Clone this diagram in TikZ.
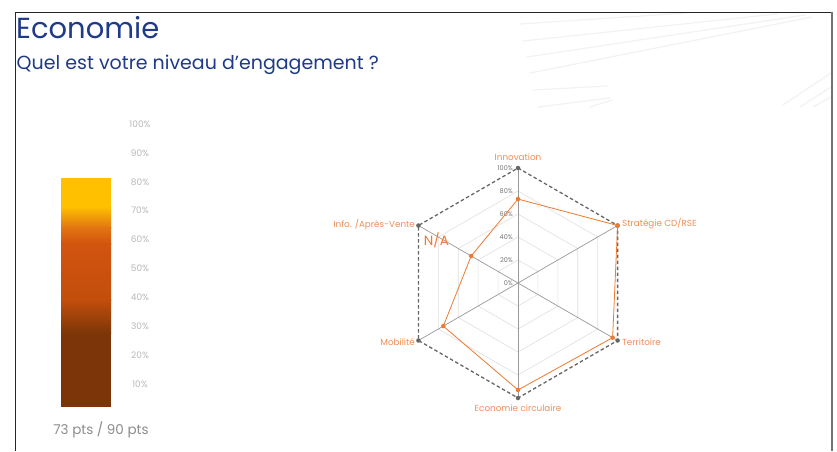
\documentclass[tikz,border=0pt]{standalone}
\usepackage{fontspec}
\setmainfont{Poppins}
\usetikzlibrary{calc}
\definecolor{titleblue}{HTML}{1F3B87}
\definecolor{radorange}{HTML}{EE7A30}
\definecolor{lblorange}{HTML}{EF8E55}
\definecolor{gyellow}{HTML}{FFC000}
\definecolor{gmid}{HTML}{E27512}
\definecolor{gorange}{HTML}{D2540F}
\definecolor{gorange2}{HTML}{C24E0C}
\definecolor{gbrown}{HTML}{7B3508}
\tikzset{
  faint/.style={draw=black!5, line width=1.2pt, line cap=round},
  gridhex/.style={draw=black!12, line width=0.6pt},
  axisline/.style={draw=black!40, line width=0.7pt},
  outerhex/.style={draw=black!60, line width=1.3pt, dash pattern=on 3.5pt off 2.5pt},
  vdot/.style={circle, fill=black!60, inner sep=0pt, minimum size=4.5pt},
  ddot/.style={circle, fill=radorange, inner sep=0pt, minimum size=4.5pt},
  dataline/.style={draw=radorange, line width=0.8pt},
  axlabel/.style={text=lblorange, font=\fontsize{8.8}{10}\selectfont, inner sep=1pt},
  pctlabel/.style={text=black!55, font=\fontsize{6.5}{7}\selectfont, inner sep=0.5pt, anchor=east},
  barlabel/.style={text=black!28, font=\fontsize{9}{10}\selectfont, inner sep=0pt},
}
\begin{document}
\begin{tikzpicture}[x=1pt,y=-1pt]
\useasboundingbox (0,0) rectangle (837,451);
\fill[white] (0,0) rectangle (837,451);
% faint background lines
\draw[faint] (520,24) -- (687,13);
\draw[faint] (523,41) -- (777,14);
\draw[faint] (527,57) -- (805,15);
\draw[faint] (530,73) -- (812,17);
\draw[faint] (533,90) -- (607,86);
\draw[faint] (538,107) -- (610,98);
\draw[faint] (590,107) -- (612,100);
\draw[faint] (783,105) -- (831,73);
\draw[faint] (800,107) -- (831,87);
\draw[faint] (813,107) -- (831,97);
% frame
\draw[black!85, line width=0.9pt] (15,451) -- (15,12) -- (832,12);
\draw[black!55, line width=1.8pt] (832,12) -- (832,451);
% titles
\node[anchor=base west, inner sep=0pt, text=titleblue, font=\fontsize{29}{32}\selectfont] (title) at (16,38) {Economie};
\node[anchor=base west, inner sep=0pt, text=titleblue, font=\fontsize{19}{22}\selectfont] (subtitle) at (16.5,69.5) {Quel est votre niveau d’engagement ?};
% gauge bar
\coordinate (bartop) at (61,178);
\fill[gyellow] (61,178) rectangle (111,207);
\shade[top color=gyellow, bottom color=gmid] (61,206.5) rectangle (111,228);
\shade[top color=gmid, bottom color=gorange] (61,227.5) rectangle (111,244);
\shade[top color=gorange, bottom color=gorange2] (61,243.5) rectangle (111,300);
\shade[top color=gorange2, bottom color=gbrown] (61,299.5) rectangle (111,334);
\fill[gbrown] (61,333.5) rectangle (111,407);
\coordinate (barbottom) at (111,407);
\foreach \v [count=\i from 0] in {100,90,80,70,60,50,40,30,20,10}{
  \node[barlabel] (bl\v) at (140,{124+28.9*\i}) {\v\%};
}
\node[text=black!45, font=\fontsize{13.5}{15}\selectfont, inner sep=0pt] (score) at (101,430) {73 pts / 90 pts};
% radar
\coordinate (C) at (518,283);
\def\R{115}
\foreach \a [count=\i] in {90,30,-30,-90,210,150}{
  \coordinate (v\i) at ({518+\R*cos(\a)},{283-\R*sin(\a)});
}
% grid hexagons
\foreach \f in {0.2,0.4,0.6,0.8}{
  \draw[gridhex] ({518+\f*\R*cos(90)},{283-\f*\R*sin(90)})
    \foreach \a in {30,-30,-90,210,150}{ -- ({518+\f*\R*cos(\a)},{283-\f*\R*sin(\a)}) } -- cycle;
}
% axes
\foreach \i in {1,...,6}{ \draw[axisline] (C) -- (v\i); }
% outer dashed hexagon
\draw[outerhex] (v1) -- (v2) -- (v3) -- (v4) -- (v5) -- (v6) -- cycle;
\foreach \i in {1,...,6}{ \node[vdot] (vd\i) at (v\i) {}; }
% percentage labels
\foreach \p in {0,20,40,60,80,100}{
  \node[pctlabel] (pl\p) at (513.5,{283-\R*\p/100}) {\p\%};
}
% data
\foreach \a/\r [count=\i] in {90/0.73,30/1.0,-30/0.95,-90/0.93,210/0.75,150/0.47}{
  \coordinate (d\i) at ({518+\r*\R*cos(\a)},{283-\r*\R*sin(\a)});
}
\draw[dataline] (d1) -- (d2) -- (d3) -- (d4) -- (d5) -- (d6) -- cycle;
\foreach \i in {1,...,6}{ \node[ddot] (dd\i) at (d\i) {}; }
% axis labels
\node[axlabel] (lInno) at (518,157) {Innovation};
\node[axlabel, anchor=west] (lStrat) at (621,224) {Stratégie CD/RSE};
\node[axlabel, anchor=west] (lTerr) at (621,342) {Territoire};
\node[axlabel] (lEco) at (518,408) {Economie circulaire};
\node[axlabel, anchor=east] (lMob) at (416,342) {Mobilité};
\node[axlabel, anchor=east] (lInfo) at (416,224) {Info. /Après-Vente};
\node[text=radorange, font=\fontsize{13.5}{15}\selectfont, inner sep=0pt] (na) at (436.5,240) {N/A};
\end{tikzpicture}
\end{document}
